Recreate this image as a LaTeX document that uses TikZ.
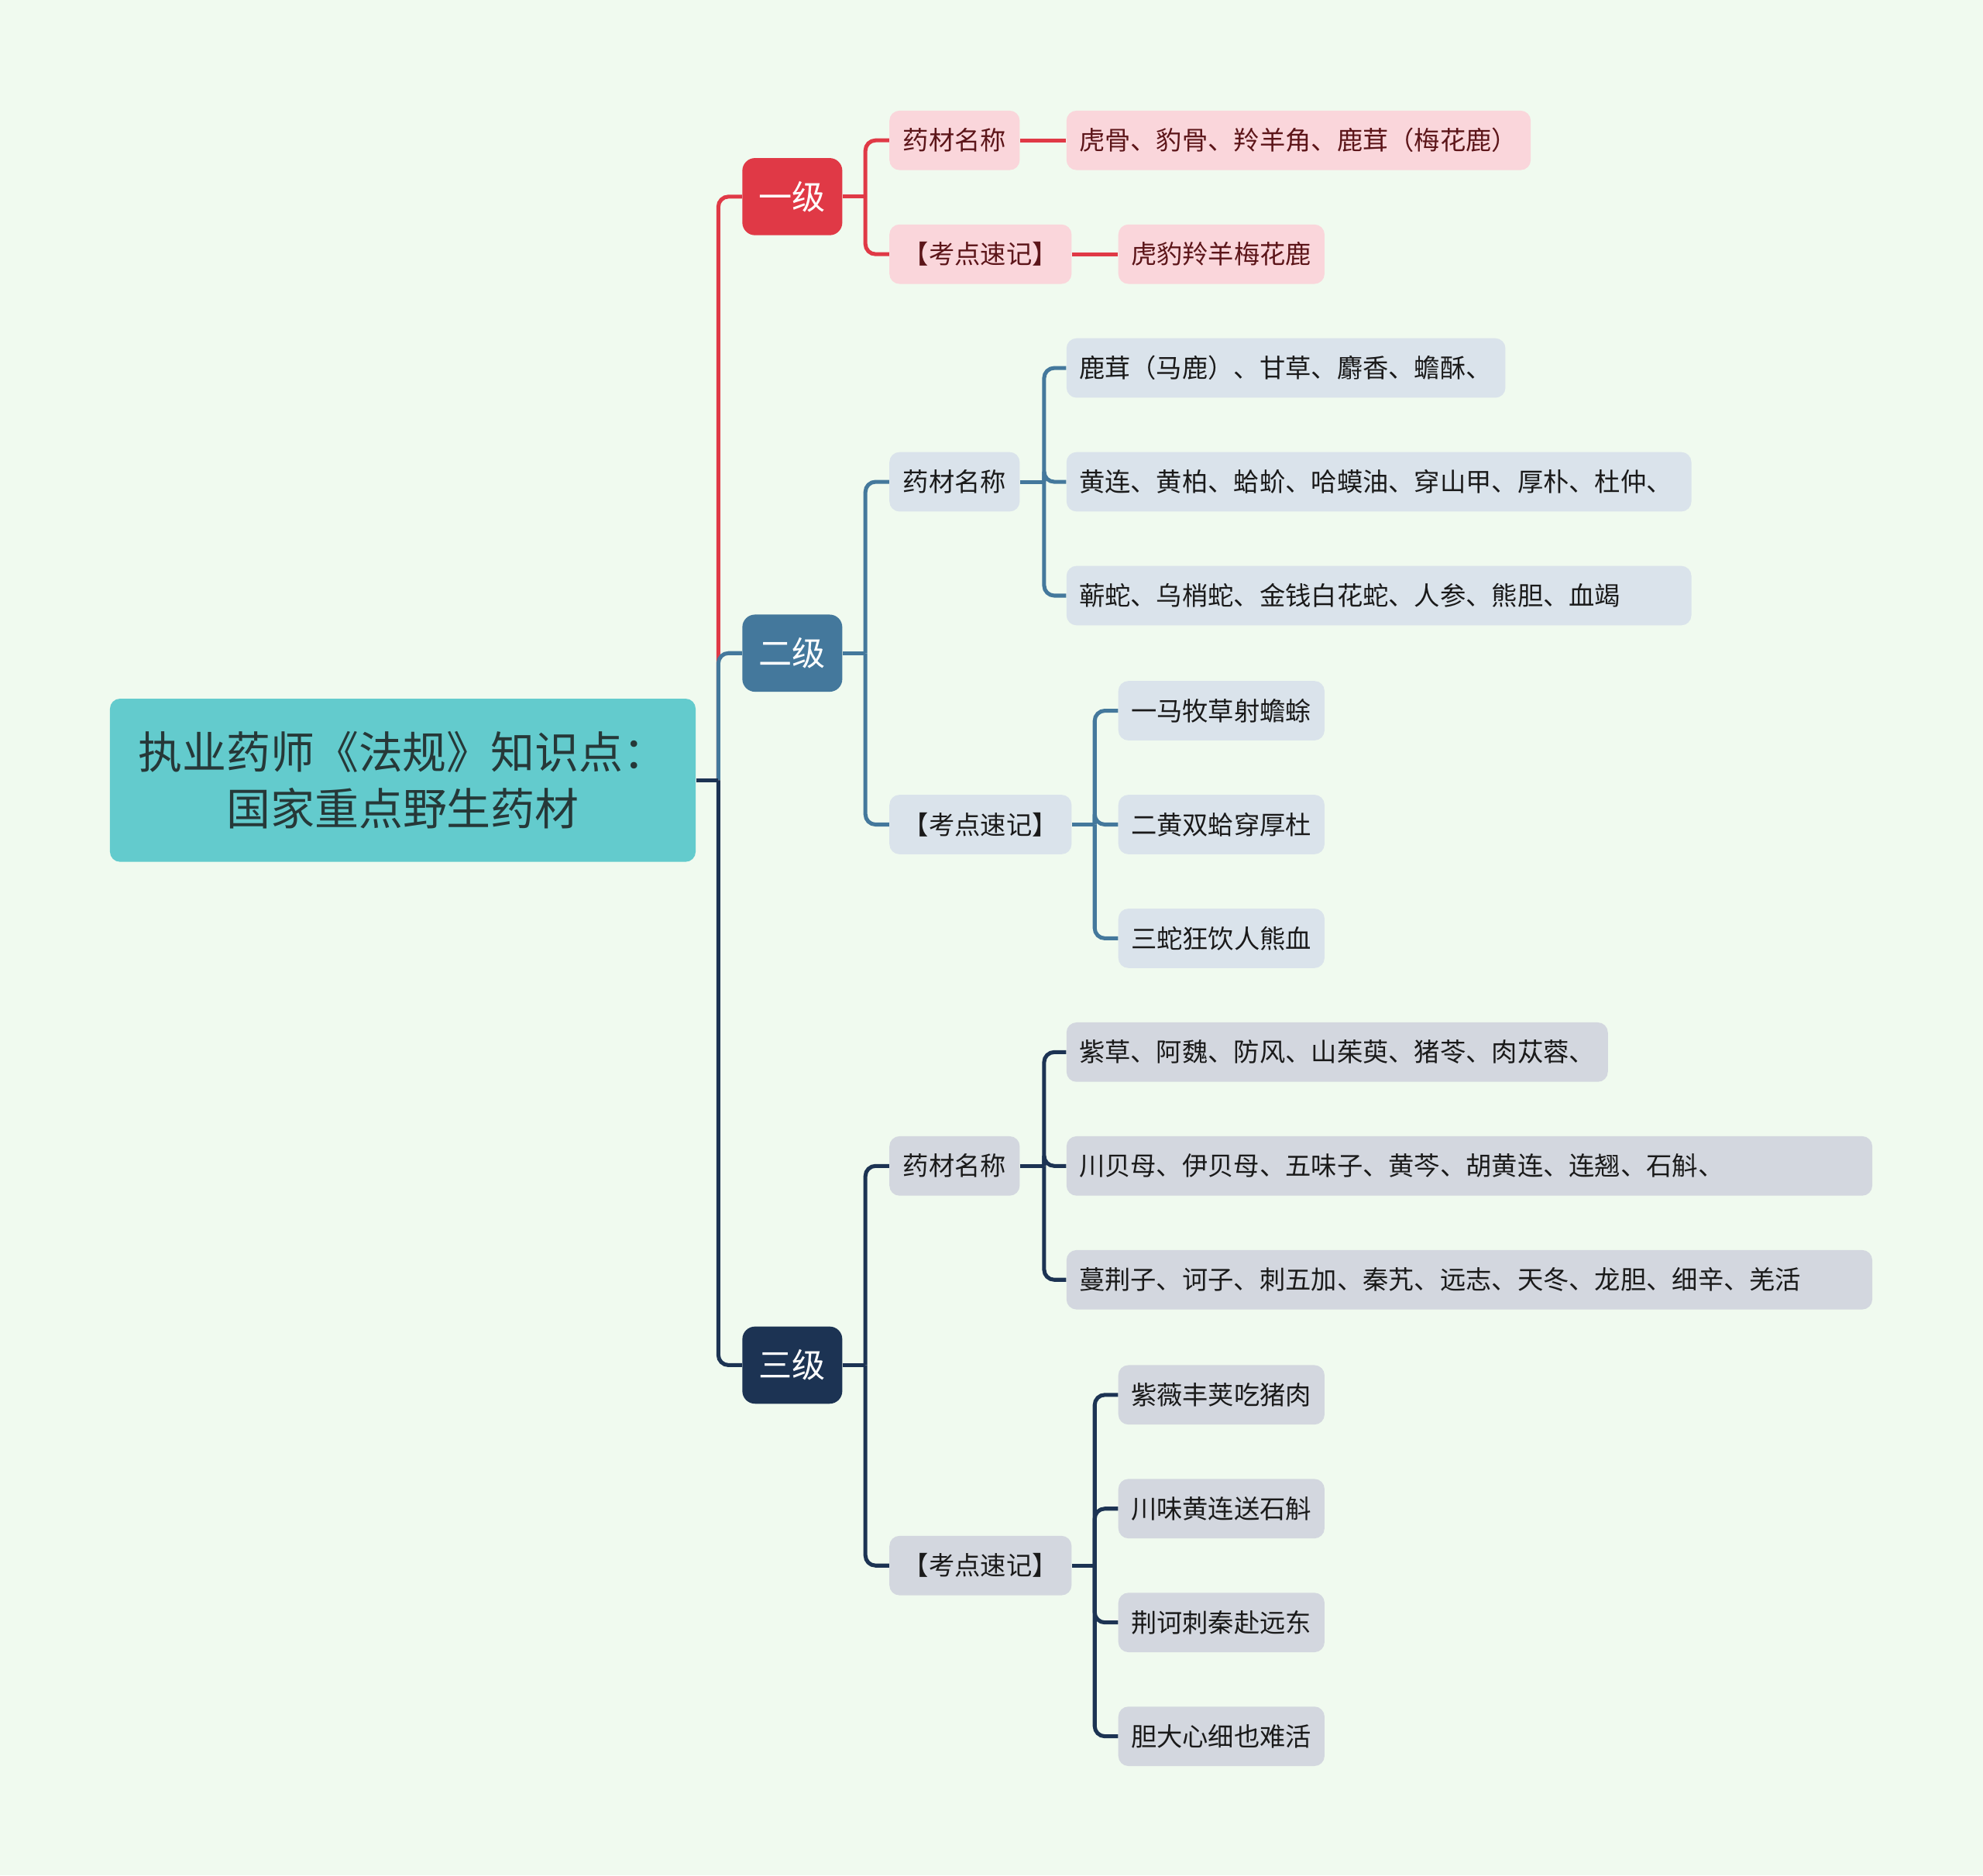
\documentclass[tikz,border=0pt]{standalone}
\usepackage{fontspec}
\setmainfont{Noto Sans CJK SC}
\usepackage{xcolor}
\usetikzlibrary{positioning}

\definecolor{bgmint}{HTML}{F0FAEF}
\definecolor{rootteal}{HTML}{63CBCD}
\definecolor{roottext}{HTML}{263838}
\definecolor{redline}{HTML}{E03946}
\definecolor{redfill}{HTML}{FAD6DB}
\definecolor{redtext}{HTML}{5C1519}
\definecolor{blueline}{HTML}{44789C}
\definecolor{bluefill}{HTML}{DAE3EB}
\definecolor{navyline}{HTML}{1C3353}
\definecolor{navyfill}{HTML}{D3D7DF}
\definecolor{leaftext}{HTML}{1A1A1A}

\tikzset{
  topic/.style={rounded corners=0.25cm, minimum width=1.975cm, minimum height=1.525cm, inner sep=0pt, text=white, font=\fontsize{18.8}{22}\selectfont},
  midbox/.style={rounded corners=0.2cm, minimum height=1.175cm, inner xsep=0.25cm, inner ysep=0pt, anchor=west, font=\fontsize{14.5}{17}\selectfont},
  leaf/.style={midbox, align=left},
  link/.style={line width=2.2pt, rounded corners=0.2cm},
}

\begin{document}
\begin{tikzpicture}[x=0.025cm, y=-0.025cm]
  % Background
  \fill[bgmint] (0,0) rectangle (1568,1483);
  \useasboundingbox (0,0) rectangle (1568,1483);

  % Root
  \node[fill=rootteal, text=roottext, rounded corners=0.2cm, minimum width=11.575cm, minimum height=3.225cm, align=center, font=\fontsize{24.8}{32}\selectfont] (root) at (318.5,617) {执业药师《法规》知识点：\\国家重点野生药材};

  % Levels
  \node[topic, fill=redline] (ji1) at (626.5,155.5) {一级};
  \node[topic, fill=blueline] (ji2) at (626.5,516.5) {二级};
  \node[topic, fill=navyline] (ji3) at (626.5,1079.5) {三级};

  \coordinate (j0) at (568,617);
  \draw[link, redline] (j0) |- (ji1.west);
  \draw[link, blueline] (j0) |- (ji2.west);
  \draw[link, navyline] (j0) |- (ji3.west);
  \draw[link, navyline] (root.east) -- (j0);

  % First level
  \node[midbox, fill=redfill, text=redtext, minimum width=2.575cm] (yc1) at (703,111) {药材名称};
  \node[midbox, fill=redfill, text=redtext, minimum width=3.6cm] (kd1) at (703,201) {【考点速记】};
  \draw[link, redline] (ji1.east) -- ++(18,0) coordinate (j1);
  \draw[link, redline] (j1) |- (yc1.west);
  \draw[link, redline] (j1) |- (kd1.west);

  \node[leaf, fill=redfill, text=redtext, text width=8.675cm] (yc1x) at (843,111) {虎骨、豹骨、羚羊角、鹿茸（梅花鹿）};
  \node[leaf, fill=redfill, text=redtext, text width=3.575cm] (kd1x) at (884,201) {虎豹羚羊梅花鹿};
  \draw[link, redline] (yc1.east) -- (yc1x.west);
  \draw[link, redline] (kd1.east) -- (kd1x.west);

  % Second level
  \node[midbox, fill=bluefill, text=leaftext, minimum width=2.575cm] (yc2) at (703,381) {药材名称};
  \node[midbox, fill=bluefill, text=leaftext, minimum width=3.6cm] (kd2) at (703,652) {【考点速记】};
  \draw[link, blueline] (ji2.east) -- ++(18,0) coordinate (j2);
  \draw[link, blueline] (j2) |- (yc2.west);
  \draw[link, blueline] (j2) |- (kd2.west);

  \draw[link, blueline] (yc2.east) -- ++(19,0) coordinate (jy2);
  \foreach \n/\y/\w/\t in {1/291/8.175/鹿茸（马鹿）、甘草、麝香、蟾酥、, 2/381/11.85/黄连、黄柏、蛤蚧、哈蟆油、穿山甲、厚朴、杜仲、, 3/471/11.85/蕲蛇、乌梢蛇、金钱白花蛇、人参、熊胆、血竭} {
    \node[leaf, fill=bluefill, text=leaftext, text width=\w cm] (yc2x\n) at (843,\y) {\t};
    \draw[link, blueline] (jy2) |- (yc2x\n.west);
  }

  \draw[link, blueline] (kd2.east) -- ++(18,0) coordinate (jk2);
  \foreach \n/\y/\t in {1/562/一马牧草射蟾蜍, 2/652/二黄双蛤穿厚杜, 3/742/三蛇狂饮人熊血} {
    \node[leaf, fill=bluefill, text=leaftext, text width=3.575cm] (kd2x\n) at (884,\y) {\t};
    \draw[link, blueline] (jk2) |- (kd2x\n.west);
  }

  % Third level
  \node[midbox, fill=navyfill, text=leaftext, minimum width=2.575cm] (yc3) at (703,922) {药材名称};
  \node[midbox, fill=navyfill, text=leaftext, minimum width=3.6cm] (kd3) at (703,1238) {【考点速记】};
  \draw[link, navyline] (ji3.east) -- ++(18,0) coordinate (j3);
  \draw[link, navyline] (j3) |- (yc3.west);
  \draw[link, navyline] (j3) |- (kd3.west);

  \draw[link, navyline] (yc3.east) -- ++(19,0) coordinate (jy3);
  \foreach \n/\y/\w/\t in {1/832/10.2/紫草、阿魏、防风、山茱萸、猪苓、肉苁蓉、, 2/922/15.425/川贝母、伊贝母、五味子、黄芩、胡黄连、连翘、石斛、, 3/1012/15.425/蔓荆子、诃子、刺五加、秦艽、远志、天冬、龙胆、细辛、羌活} {
    \node[leaf, fill=navyfill, text=leaftext, text width=\w cm] (yc3x\n) at (843,\y) {\t};
    \draw[link, navyline] (jy3) |- (yc3x\n.west);
  }

  \draw[link, navyline] (kd3.east) -- ++(18,0) coordinate (jk3);
  \foreach \n/\y/\t in {1/1103/紫薇丰荚吃猪肉, 2/1193/川味黄连送石斛, 3/1283/荆诃刺秦赴远东, 4/1373/胆大心细也难活} {
    \node[leaf, fill=navyfill, text=leaftext, text width=3.575cm] (kd3x\n) at (884,\y) {\t};
    \draw[link, navyline] (jk3) |- (kd3x\n.west);
  }

\end{tikzpicture}
\end{document}
